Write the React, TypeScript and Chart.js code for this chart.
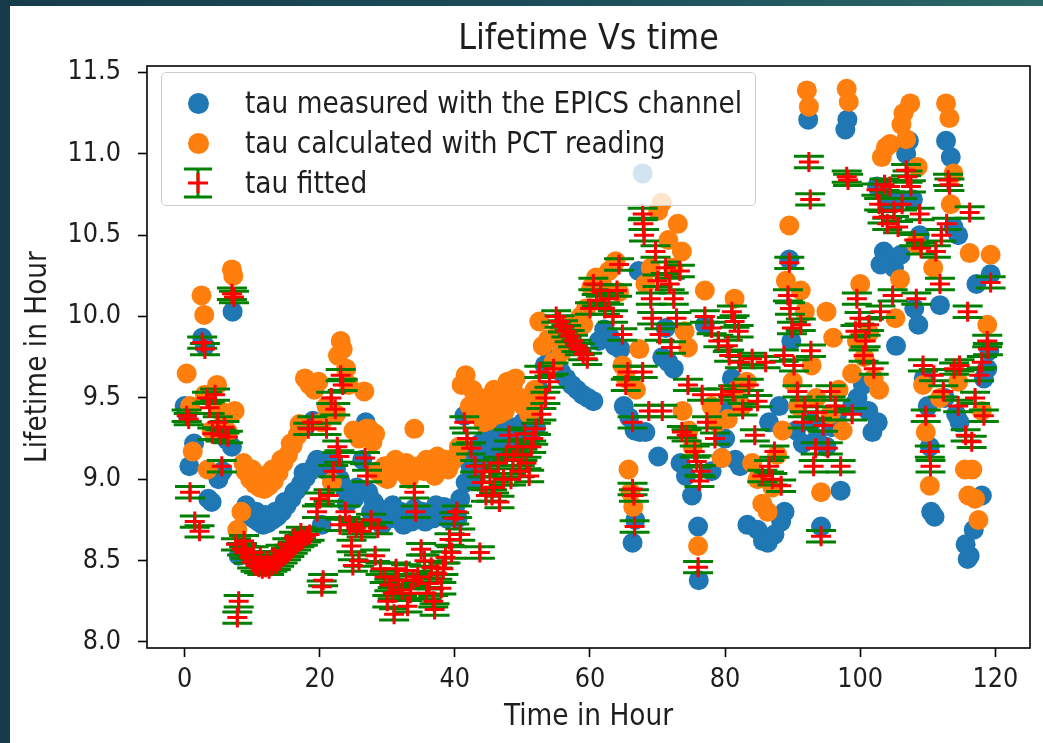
import React, { useEffect, useRef } from "react";
import { Chart, registerables } from "chart.js";

Chart.register(...registerables);

// ---------- data ----------
const epicsHours = [
  0.0, 0.4, 0.7, 1.4, 2.6, 3.0, 3.5, 4.0, 4.4, 5.0,
  5.6, 6.3, 7.0, 7.1, 8.0, 8.4, 8.8, 9.5, 10.2, 10.9,
  11.6, 12.3, 13.0, 13.7, 14.4, 15.1, 15.8, 16.5, 17.2, 17.9,
  18.0, 18.6, 19.0, 19.3, 20.0, 20.3, 20.8, 21.6, 22.4, 23.0,
  23.7, 24.4, 25.1, 25.8, 26.3, 26.8, 27.2, 28.0, 28.8, 29.6,
  30.4, 31.2, 32.0, 32.8, 33.6, 34.4, 35.2, 36.0, 36.8, 37.6,
  38.4, 39.2, 40.0, 40.8, 41.4, 41.6, 42.3, 43.0, 43.7, 44.5,
  45.3, 46.1, 46.9, 47.7, 48.5, 49.3, 50.1, 50.9, 51.7, 52.5,
  53.3, 54.1, 54.9, 55.7, 56.5, 57.3, 58.1, 58.9, 59.7, 60.5,
  61.3, 62.1, 62.9, 63.7, 64.5, 65.0, 65.8, 66.3, 66.6, 66.7,
  67.2, 67.4, 67.8, 68.2, 70.1, 70.7, 71.2, 71.6, 72.4, 73.4,
  74.2, 75.1, 76.0, 76.1, 77.0, 78.0, 79.5, 80.0, 80.4, 81.0,
  81.5, 82.2, 83.3, 84.8, 85.6, 86.3, 86.5, 87.3, 88.0, 88.3,
  88.8, 89.5, 89.8, 90.5, 91.5, 92.3, 92.8, 93.6, 94.2, 95.0,
  95.8, 96.6, 97.1, 97.8, 98.1, 98.8, 99.6, 100.4, 101.2, 101.8,
  102.5, 102.6, 103.0, 103.2, 103.5, 104.0, 104.3, 105.0, 105.3, 105.5,
  106.0, 106.8, 107.2, 107.8, 108.0, 108.6, 108.8, 109.4, 110.0, 110.3,
  110.5, 111.0, 111.8, 112.5, 112.7, 113.4, 113.8, 114.2, 114.5, 114.7,
  115.6, 115.9, 116.2, 116.8, 117.2, 118.0, 118.3, 118.8, 119.1, 119.3,
  9.1, 10.6, 12.0, 13.4, 14.8, 16.2, 17.6, 19.6, 21.2, 22.0,
  24.0, 25.5, 27.6, 29.2, 30.8, 32.4, 34.0, 35.6, 37.2, 38.8,
  40.4, 42.8, 44.0, 45.0, 46.5, 48.0, 49.7, 51.2, 52.0,
];
const epicsTau = [
  9.45, 9.40, 9.08, 9.22, 9.87, 9.82, 8.88, 8.86, 9.30, 9.00,
  9.05, 9.24, 9.20, 10.03, 8.53, 8.57, 8.80, 8.78, 8.76, 8.74,
  8.72, 8.73, 8.75, 8.77, 8.80, 8.84, 8.88, 8.93, 8.97, 9.01,
  9.33, 9.05, 9.36, 9.09, 9.10, 8.72, 9.08, 9.10, 9.06, 9.00,
  8.94, 8.90, 8.88, 8.92, 9.12, 9.35, 8.92, 8.86, 8.82, 8.78,
  8.76, 8.78, 8.80, 8.76, 8.74, 8.77, 8.80, 8.78, 8.76, 8.80,
  8.83, 8.80, 8.82, 8.88, 9.39, 8.98, 9.08, 9.15, 9.22, 9.25,
  9.28, 9.22, 9.30, 9.27, 9.32, 9.28, 9.35, 9.30, 9.40, 9.55,
  9.70, 9.74, 9.70, 9.66, 9.62, 9.58, 9.55, 9.52, 9.50, 9.48,
  9.85, 9.92, 9.88, 9.82, 9.80, 9.45, 9.38, 8.61, 9.30, 8.75,
  10.28, 9.29, 10.88, 9.29, 9.14, 9.75, 9.93, 9.72, 9.68, 9.10,
  9.02, 8.90, 8.71, 8.38, 9.95, 9.05, 9.13, 9.25, 9.42, 9.62,
  9.12, 9.08, 8.72, 8.69, 8.62, 8.61, 9.35, 8.66, 9.45, 8.74,
  8.80, 10.35, 9.85, 9.30, 9.22, 11.21, 9.35, 9.25, 8.71, 9.20,
  9.32, 9.40, 8.93, 11.15, 11.21, 9.45, 9.50, 9.58, 9.42, 9.29,
  10.80, 9.35, 10.32, 10.78, 10.40, 10.70, 10.36, 10.30, 9.82, 10.72,
  10.38, 11.00, 11.08, 10.72, 10.05, 9.95, 10.50, 9.62, 9.45, 9.20,
  8.80, 8.77, 10.07, 9.50, 11.08, 10.98, 10.55, 9.40, 10.50, 9.35,
  8.60, 8.51, 8.53, 8.69, 10.20, 8.90, 9.62, 9.68, 9.79, 10.26,
  8.84, 8.80, 8.78, 8.80, 8.86, 8.92, 9.04, 9.12, 9.05, 9.12,
  8.85, 8.95, 8.80, 8.72, 8.84, 8.72, 8.82, 8.74, 8.84, 8.76,
  8.76, 9.00, 9.10, 9.18, 9.15, 9.20, 9.22, 9.25, 9.32,
];

const pctHours = [
  0.3, 0.8, 1.2, 2.5, 2.9, 3.0, 3.4, 4.0, 4.8, 5.3,
  5.8, 6.4, 7.0, 7.2, 7.4, 7.8, 8.4, 9.0, 9.7, 10.4,
  11.1, 11.8, 12.5, 13.2, 13.9, 14.6, 15.3, 16.0, 16.7, 17.3,
  17.8, 18.5, 19.2, 19.8, 20.3, 21.0, 21.8, 22.4, 22.7, 23.1,
  23.4, 23.9, 24.3, 25.0, 25.8, 26.6, 27.3, 27.8, 28.5, 29.2,
  30.0, 30.8, 31.6, 32.4, 33.2, 34.0, 34.6, 35.4, 36.2, 37.0,
  37.8, 38.6, 39.4, 40.2, 41.0, 41.6, 42.2, 43.0, 43.8, 44.6,
  45.4, 46.2, 47.0, 47.8, 48.6, 49.4, 50.2, 51.0, 51.8, 52.5,
  53.0, 53.8, 54.6, 55.4, 56.2, 57.0, 57.8, 58.6, 59.4, 60.2,
  60.9, 61.8, 62.8, 63.8, 64.3, 64.8, 65.3, 65.7, 66.0, 66.4,
  66.8, 67.3, 68.2, 69.0, 70.1, 70.6, 71.6, 72.3, 73.0, 73.6,
  73.7, 74.0, 74.5, 74.6, 75.2, 76.0, 77.0, 78.0, 78.8,
  79.5, 80.4, 81.4, 81.8, 82.5, 83.2, 84.0, 84.8, 85.5, 86.3,
  87.0, 87.7, 88.5, 89.0, 89.5, 90.0, 90.8, 91.2, 91.8, 92.1,
  92.4, 92.8, 93.5, 94.2, 95.0, 95.6, 96.0, 96.8, 97.4, 98.0,
  98.3, 98.8, 99.5, 100.0, 100.6, 101.3, 102.0, 102.8, 103.2, 103.8,
  104.4, 105.2, 105.9, 106.1, 106.4, 106.8, 107.4, 108.2, 108.5, 109.3,
  109.7, 110.3, 110.8, 111.8, 112.7, 113.2, 113.4, 113.8, 114.5, 115.5,
  116.0, 116.2, 116.6, 117.0, 117.5, 118.0, 118.8, 119.3,
  8.7, 10.0, 11.5, 13.0, 14.3, 15.7, 17.0, 28.2, 29.6, 31.2,
  32.8, 34.2, 35.8, 37.4, 39.0, 40.6, 42.6, 44.2, 45.8, 47.4,
  49.0, 50.6, 52.2, 55.8, 57.4, 59.0, 25.7, 26.9, 44.9, 46.6,
];
const pctTau = [
  9.65, 9.45, 9.17, 10.13, 10.01, 9.52, 9.06, 9.30, 9.58, 9.42,
  9.35, 9.29, 10.29, 10.25, 9.42, 8.69, 8.80, 9.05, 9.00, 8.97,
  8.95, 8.94, 8.96, 8.99, 9.04, 9.10, 9.15, 9.21, 9.27, 9.32,
  9.62, 9.58, 9.55, 9.60, 9.35, 9.45, 8.98, 9.40, 9.76, 9.85,
  9.80, 9.68, 9.58, 9.30, 9.25, 9.54, 9.31, 9.23, 9.05, 9.02,
  9.00, 9.05, 9.08, 9.04, 9.00, 9.31, 9.08, 9.05, 9.10, 9.02,
  9.07, 9.12, 9.10, 9.14, 9.58, 9.64, 9.45, 9.40, 9.50, 9.45,
  9.38, 9.48, 9.52, 9.60, 9.55, 9.48, 9.45, 9.40, 9.55, 9.97,
  9.82, 9.86, 9.72, 9.90, 9.88, 9.95, 9.92, 10.00, 10.05, 10.18,
  10.24, 10.20, 10.28, 10.34, 10.15, 9.70, 9.62, 9.06, 8.92, 8.83,
  9.55, 9.80, 10.20, 10.30, 10.65, 10.70, 10.47, 10.30, 10.57, 10.40,
  9.42, 9.91, 9.81, 9.30, 9.20, 8.59, 10.16, 9.45, 9.35,
  9.13, 9.37, 10.11, 9.55, 9.45, 9.60, 9.10, 9.00, 8.85, 8.80,
  8.95, 9.15, 9.30, 10.22, 10.56, 9.60, 9.45, 10.16, 10.03, 11.39,
  11.29, 9.70, 9.50, 8.92, 10.03, 9.40, 9.87, 9.55, 9.30, 11.40,
  11.32, 9.65, 9.85, 10.20, 9.75, 9.90, 9.62, 9.55, 10.98, 11.04,
  11.06, 9.99, 10.23, 11.18, 11.25, 11.09, 11.31, 10.45, 10.92, 9.58,
  9.29, 8.96, 10.30, 9.50, 11.31, 11.22, 10.69, 10.88, 9.60, 9.06,
  8.90, 10.39, 9.06, 8.88, 8.75, 9.42, 9.95, 10.38,
  9.10, 9.06, 9.02, 9.06, 9.12, 9.22, 9.34, 9.28, 9.08, 9.12,
  9.10, 9.05, 9.12, 9.14, 9.06, 9.20, 9.55, 9.35, 9.55, 9.42,
  9.62, 9.50, 9.48, 9.78, 9.85, 9.95, 9.27, 9.31, 9.36, 9.40,
];

const fitHours = [
  0.3, 0.6, 0.8, 1.5, 2.2, 2.6, 3.0, 3.3, 3.7, 4.1,
  4.5, 4.9, 5.3, 5.5, 5.9, 6.4, 7.0, 7.3, 7.6, 7.8,
  8.0, 8.5, 9.0, 9.5, 10.0, 10.5, 11.0, 11.5, 12.0, 12.5,
  13.0, 13.5, 14.0, 14.5, 15.0, 15.5, 16.0, 16.5, 17.0, 17.5,
  18.0, 18.3, 18.5, 18.9, 19.6, 20.0, 20.3, 20.5, 21.0, 21.3,
  21.7, 22.0, 22.3, 22.6, 22.9, 23.1, 23.4, 23.8, 24.4, 24.7,
  24.9, 25.4, 26.2, 26.7, 27.0, 27.6, 28.2, 29.0, 29.6, 30.3,
  30.8, 31.0, 31.6, 32.2, 32.8, 33.4, 34.0, 34.2, 34.5, 35.0,
  35.5, 36.2, 36.8, 37.0, 37.4, 38.0, 38.6, 39.2, 39.9, 40.3,
  40.8, 41.4, 41.8, 42.4, 43.0, 43.7, 44.0, 44.6, 45.2, 45.8,
  46.4, 46.6, 47.2, 48.0, 48.6, 49.2, 50.0, 50.6, 51.0, 51.6,
  52.0, 52.5, 52.8, 53.4, 54.0, 54.6, 55.0, 55.5, 56.0, 56.5,
  57.0, 57.5, 58.0, 58.5, 59.0, 59.6, 60.0, 60.5, 61.0, 61.6,
  62.2, 62.8, 63.4, 64.0, 64.3, 64.8, 65.3, 65.6, 66.3, 66.3,
  66.5, 66.6, 67.8, 67.9, 68.0, 67.8, 68.7, 69.0, 69.2, 69.7,
  70.0, 70.3, 70.7, 71.2, 71.8, 72.0, 72.4, 72.8, 73.3, 73.6,
  74.3, 74.5, 75.5, 75.8, 76.0, 76.2, 76.4, 76.6, 77.0, 77.3,
  78.0, 78.5, 79.0, 79.5, 80.4, 80.6, 81.0, 81.2, 81.4, 82.0,
  82.2, 82.6, 83.5, 84.0, 84.4, 84.8, 85.5, 86.0, 86.5, 87.0,
  87.3, 88.3, 88.7, 89.3, 89.5, 89.6, 89.9, 90.2, 90.7, 91.2,
  91.5, 91.8, 92.4, 92.6, 92.7, 93.1, 93.4, 93.6, 94.2, 94.5,
  95.2, 95.6, 96.3, 97.1, 98.0, 98.2, 98.8, 99.3, 99.5, 99.9,
  100.5, 100.8, 101.3, 102.0, 102.4, 102.8, 103.0, 103.3, 103.6, 104.0,
  104.4, 104.8, 105.0, 105.6, 106.2, 106.8, 107.0, 107.5, 108.0, 108.3,
  108.8, 109.0, 109.3, 109.7, 110.3, 110.4, 110.9, 111.2, 111.8, 112.0,
  112.3, 112.8, 113.0, 113.2, 113.9, 114.5, 114.7, 115.6, 115.9, 116.2,
  116.5, 117.0, 117.6, 118.0, 118.3, 118.8, 118.9, 119.3,
  8.8, 10.2, 11.2, 12.2, 13.2, 14.2, 15.2, 16.2, 17.2, 23.0,
  25.8, 28.6, 30.0, 31.3, 33.0, 33.8, 35.8, 36.5, 38.3, 39.5,
  44.3, 45.5, 47.6, 48.3, 49.6, 50.3, 51.3,
];
const fitTau = [
  9.39, 9.37, 8.92, 8.74, 8.68, 9.84, 9.80, 9.50, 9.44, 9.28,
  9.52, 9.35, 9.27, 9.08, 9.32, 9.26, 10.14, 10.12, 8.60, 8.15,
  8.25, 8.57, 8.55, 8.52, 8.49, 8.47, 8.46, 8.45, 8.46, 8.45,
  8.47, 8.48, 8.50, 8.52, 8.54, 8.56, 8.58, 8.60, 8.62, 8.63,
  8.65, 9.31, 8.66, 9.35, 8.80, 8.88, 8.34, 8.38, 9.31, 8.90,
  9.50, 9.05, 9.43, 9.20, 9.14, 9.64, 9.58, 8.80, 8.72, 8.59,
  8.47, 8.70, 8.68, 9.13, 9.02, 8.75, 8.53, 8.45, 8.40, 8.35,
  8.30, 8.17, 8.38, 8.32, 8.44, 8.30, 8.92, 8.80, 8.40, 8.57,
  8.50, 8.36, 8.25, 8.20, 8.42, 8.33, 8.52, 8.63, 8.76, 8.80,
  8.66, 9.35, 9.25, 9.19, 9.08, 8.55, 8.98, 8.90, 9.05, 8.95,
  9.10, 8.86, 9.00, 9.27, 9.12, 9.20, 9.15, 9.10, 9.02, 9.25,
  9.31, 9.66, 9.40, 9.50, 9.60, 9.68, 10.00, 9.97, 9.94, 9.91,
  9.88, 9.85, 9.82, 9.80, 9.77, 9.74, 10.05, 10.20, 10.10, 10.16,
  10.05, 10.11, 10.00, 10.16, 10.32, 9.89, 9.58, 9.66, 9.35, 8.94,
  8.90, 8.71, 10.63, 10.57, 10.50, 9.66, 9.42, 10.11, 9.99, 10.40,
  10.22, 9.89, 9.42, 10.30, 10.20, 9.81, 10.11, 9.99, 10.28, 9.29,
  9.27, 9.58, 9.17, 9.11, 8.46, 8.99, 9.05, 9.52, 10.00, 9.35,
  9.93, 9.25, 9.85, 9.52, 9.82, 9.76, 10.03, 9.54, 9.97, 9.91,
  9.72, 9.43, 9.58, 9.74, 9.27, 9.48, 9.02, 9.72, 9.08, 9.00,
  9.17, 8.96, 9.76, 10.13, 10.33, 10.05, 9.93, 9.70, 9.54, 9.95,
  9.35, 9.45, 10.95, 10.72, 9.79, 9.08, 9.19, 9.41, 8.65, 9.33,
  9.19, 9.54, 9.45, 9.08, 10.86, 10.84, 9.40, 9.91, 10.11, 9.99,
  9.76, 9.85, 9.95, 9.68, 10.78, 10.69, 10.03, 10.61, 10.81, 10.57,
  10.80, 10.13, 10.65, 10.55, 10.69, 10.90, 10.86, 10.80, 10.47, 10.11,
  10.63, 10.42, 9.70, 9.39, 9.17, 9.08, 9.64, 10.40, 10.20, 10.50,
  9.54, 10.57, 10.84, 10.81, 9.68, 9.45, 9.70, 9.27, 10.03, 10.64,
  9.23, 9.50, 9.64, 9.72, 9.39, 9.85, 9.80, 10.21,
  8.62, 8.55, 8.52, 8.50, 8.52, 8.56, 8.60, 8.64, 8.67, 8.72,
  8.50, 8.70, 8.25, 8.45, 8.22, 8.38, 8.30, 8.46, 8.45, 8.55,
  9.05, 8.90, 9.15, 9.00, 9.05, 9.28, 9.20,
];
const fitError = 0.035;

const xTickValues = [0, 20, 40, 60, 80, 100, 120];
const yTickValues = [8.0, 8.5, 9.0, 9.5, 10.0, 10.5, 11.0, 11.5];

const seriesLabels = [
  "tau measured with the EPICS channel",
  "tau calculated with PCT reading",
  "tau fitted",
];
const chartTitle = "Lifetime Vs time";
const xAxisTitle = "Time in Hour";
const yAxisTitle = "Lifetime in Hour";

// ---------- styling ----------
const FONT = "'DejaVu Sans Condensed', 'DejaVu Sans', 'Liberation Sans', sans-serif";
const TEXT = "#1e1e1e";
const BLUE = "#1f77b4";
const ORANGE = "#ff7f0e";
const RED = "#ff0000";
const GREEN = "#008000";
const TICK_SIZE = 26.7;
const LABEL_SIZE = 29.4;
const TITLE_SIZE = 35.5;

const errorBarsAndFrame = {
  id: "errorBarsAndFrame",
  beforeDatasetDraw(chart: any, args: any) {
    const ds = chart.data.datasets[args.index];
    if (ds.errorBar === undefined) return;
    const { ctx, chartArea } = chart;
    const xs = chart.scales.x;
    const ys = chart.scales.y;
    const cap = 15;
    ctx.save();
    ctx.beginPath();
    ctx.rect(chartArea.left, chartArea.top, chartArea.right - chartArea.left, chartArea.bottom - chartArea.top);
    ctx.clip();
    ctx.strokeStyle = GREEN;
    ctx.lineWidth = 3;
    for (const p of ds.data) {
      const px = xs.getPixelForValue(p.x);
      const yTop = ys.getPixelForValue(p.y + ds.errorBar);
      const yBot = ys.getPixelForValue(p.y - ds.errorBar);
      ctx.beginPath();
      ctx.moveTo(px, yTop);
      ctx.lineTo(px, yBot);
      ctx.moveTo(px - cap, yTop);
      ctx.lineTo(px + cap, yTop);
      ctx.moveTo(px - cap, yBot);
      ctx.lineTo(px + cap, yBot);
      ctx.stroke();
    }
    ctx.restore();
  },
  afterDraw(chart: any) {
    const { ctx, chartArea } = chart;
    ctx.save();
    ctx.strokeStyle = "#000";
    ctx.lineWidth = 1.6;
    ctx.strokeRect(chartArea.left, chartArea.top, chartArea.right - chartArea.left, chartArea.bottom - chartArea.top);
    ctx.restore();
  },
};

function toPoints(xs: number[], ys: number[]) {
  return xs.map((x, i) => ({ x, y: ys[i] }));
}

export default function App() {
  const canvasRef = useRef<HTMLCanvasElement | null>(null);

  useEffect(() => {
    const canvas = canvasRef.current;
    if (!canvas) return;
    const tickFont = { family: FONT, size: TICK_SIZE };
    const labelFont = { family: FONT, size: LABEL_SIZE };
    const chart = new Chart(canvas, {
      type: "scatter",
      data: {
        datasets: [
          {
            label: seriesLabels[0],
            data: toPoints(epicsHours, epicsTau),
            pointRadius: 10,
            pointHoverRadius: 10,
            pointBackgroundColor: BLUE,
            pointBorderColor: BLUE,
            pointBorderWidth: 0,
            backgroundColor: BLUE,
            borderColor: BLUE,
            order: 3,
          },
          {
            label: seriesLabels[1],
            data: toPoints(pctHours, pctTau),
            pointRadius: 10,
            pointHoverRadius: 10,
            pointBackgroundColor: ORANGE,
            pointBorderColor: ORANGE,
            pointBorderWidth: 0,
            backgroundColor: ORANGE,
            borderColor: ORANGE,
            order: 2,
          },
          {
            label: seriesLabels[2],
            data: toPoints(fitHours, fitTau),
            pointStyle: "cross",
            pointRadius: 10,
            pointHoverRadius: 10,
            pointBorderColor: RED,
            pointBackgroundColor: RED,
            pointBorderWidth: 3,
            borderColor: RED,
            backgroundColor: RED,
            order: 1,
            errorBar: fitError,
          } as any,
        ],
      },
      options: {
        responsive: false,
        maintainAspectRatio: false,
        animation: false,
        devicePixelRatio: 1,
        events: [],
        layout: { padding: { left: 10, right: 5, top: 6, bottom: 0 } },
        plugins: {
          legend: { display: false },
          tooltip: { enabled: false },
          title: {
            display: true,
            text: chartTitle,
            fullSize: false,
            color: TEXT,
            font: { family: FONT, size: TITLE_SIZE, weight: "normal" },
            padding: { top: 12.7, bottom: 4.7 },
          },
        },
        scales: {
          x: {
            type: "linear",
            position: "bottom",
            min: -5.57,
            max: 125.13,
            afterBuildTicks: (scale: any) => {
              scale.ticks = xTickValues.map((v) => ({ value: v }));
            },
            afterFit: (scale: any) => {
              scale.height = 95;
            },
            border: { display: false },
            grid: {
              display: true,
              drawOnChartArea: false,
              drawTicks: true,
              tickLength: 9,
              tickWidth: 1.6,
              tickColor: "#000",
            },
            ticks: {
              color: TEXT,
              font: tickFont,
              padding: 7,
              maxRotation: 0,
              autoSkip: false,
              callback: (v: any) => String(v),
            },
            title: {
              display: true,
              text: xAxisTitle,
              color: TEXT,
              font: labelFont,
              padding: { top: 0, bottom: 8.4 },
            },
          },
          y: {
            type: "linear",
            position: "left",
            min: 7.963,
            max: 11.54,
            afterBuildTicks: (scale: any) => {
              scale.ticks = yTickValues.map((v) => ({ value: v }));
            },
            afterFit: (scale: any) => {
              scale.width = 137;
            },
            border: { display: false },
            grid: {
              display: true,
              drawOnChartArea: false,
              drawTicks: true,
              tickLength: 9,
              tickWidth: 1.6,
              tickColor: "#000",
            },
            ticks: {
              color: TEXT,
              font: tickFont,
              padding: 17,
              autoSkip: false,
              callback: (v: any) => Number(v).toFixed(1),
            },
            title: {
              display: true,
              text: yAxisTitle,
              color: TEXT,
              font: labelFont,
              padding: { top: 10.4, bottom: 0 },
            },
          },
        },
      } as any,
      plugins: [errorBarsAndFrame as any],
    });
    return () => chart.destroy();
  }, []);

  const legendText: React.CSSProperties = {
    position: "absolute",
    left: 83,
    height: 36,
    lineHeight: "36px",
    fontFamily: FONT,
    fontSize: LABEL_SIZE,
    color: TEXT,
    whiteSpace: "nowrap",
  };
  const dot = (color: string, top: number): React.CSSProperties => ({
    position: "absolute",
    left: 36 - 10.5,
    top: top - 10.5,
    width: 21,
    height: 21,
    borderRadius: "50%",
    background: color,
  });

  return (
    <div
      style={{
        position: "fixed",
        left: 0,
        top: 0,
        width: 1043,
        height: 743,
        overflow: "hidden",
        background: "linear-gradient(90deg, #163c4c 0%, #1c4d5a 55%, #2b6867 100%)",
      }}
    >
      <div style={{ position: "absolute", left: 10, top: 6, right: 0, bottom: 0, background: "#ffffff" }} />
      <canvas
        ref={canvasRef}
        width={1043}
        height={743}
        style={{ position: "absolute", left: 0, top: 0, width: 1043, height: 743 }}
      />
      <div
        style={{
          position: "absolute",
          left: 161,
          top: 72,
          width: 593,
          height: 132,
          border: "1px solid #cccccc",
          borderRadius: 5,
          background: "rgba(255,255,255,0.8)",
        }}
      >
        <div style={dot(BLUE, 30)} />
        <div style={{ ...legendText, top: 30 - 18 }}>{seriesLabels[0]}</div>
        <div style={dot(ORANGE, 70)} />
        <div style={{ ...legendText, top: 70 - 18 }}>{seriesLabels[1]}</div>
        <svg
          width={40}
          height={40}
          style={{ position: "absolute", left: 36 - 20, top: 110 - 20 }}
          viewBox="-20 -20 40 40"
        >
          <g stroke={GREEN} strokeWidth={3}>
            <line x1={0} y1={-14} x2={0} y2={14} />
            <line x1={-14} y1={-14} x2={14} y2={-14} />
            <line x1={-14} y1={14} x2={14} y2={14} />
          </g>
          <g stroke={RED} strokeWidth={3}>
            <line x1={0} y1={-10} x2={0} y2={10} />
            <line x1={-10} y1={0} x2={10} y2={0} />
          </g>
        </svg>
        <div style={{ ...legendText, top: 110 - 18 }}>{seriesLabels[2]}</div>
      </div>
    </div>
  );
}
